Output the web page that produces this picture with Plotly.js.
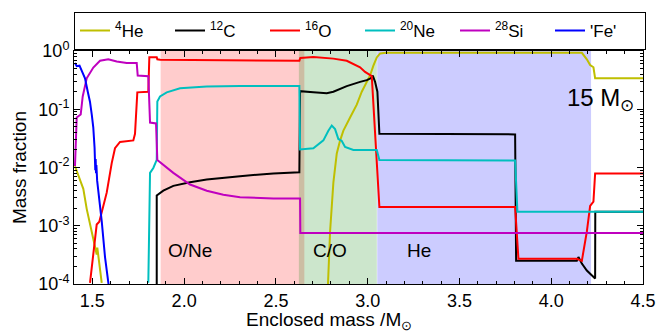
<!DOCTYPE html>
<html>
<head>
<meta charset="utf-8">
<script src="https://cdn.plot.ly/plotly-3.0.1.min.js"></script>
<style>html,body{margin:0;padding:0;background:#fff;}#chart{width:661px;height:334px;}</style>
</head>
<body>
<div id="chart"></div>
<script>
// ---- data ----
const heMass = [1.4054,1.4327,1.4507,1.4692,1.4965,1.5144,1.5237,1.5270,1.5300,1.5379,1.5510,null,2.7826,2.7951,2.8131,2.8316,2.8496,2.8676,2.9041,2.9406,2.9678,2.9951,3.0131,3.0311,3.0496,3.0676,3.10,4.1668,4.1940,4.2120,4.2300,4.2392,4.5];
const heFrac = [0.0105,0.0062,0.0043,0.00195,0.00079,0.00048,0.00032,0.00042,0.00035,0.000224,0.000105,null,0.00008,0.00079,0.0055,0.0174,0.029,0.043,0.072,0.12,0.20,0.295,0.38,0.56,0.776,0.91,0.93,0.93,0.72,0.575,0.525,0.34,0.34];

const cMass = [1.8507,1.8507,1.8866,1.9411,2.0322,2.1232,2.3046,2.4861,2.6278,2.6316,2.7041,2.7771,2.8131,2.8861,2.9586,2.9951,3.0169,3.0278,3.0403,3.0529,3.0638,3.8033,3.8087,4.1395,4.1482,4.1668,4.1940,4.2213,4.2392,4.2400,4.5];
const cFrac = [0.00005,0.0033,0.0040,0.00484,0.0056,0.0062,0.0071,0.0079,0.0083,0.204,0.195,0.188,0.20,0.25,0.295,0.316,0.34,0.38,0.295,0.20,0.038,0.037,0.00025,0.00025,0.00029,0.000224,0.00017,0.000141,0.000124,0.00174,0.00174];

const oMass = [1.4872,1.5237,1.5379,1.5782,1.6055,1.6234,1.6507,1.7232,1.7324,1.7450,1.8049,1.8104,1.8507,1.8540,1.8700,2.2000,2.6278,2.6330,2.7041,2.8131,2.8861,2.9586,2.9858,3.0223,3.0496,3.0638,3.8033,3.8213,4.1395,4.1668,4.1940,4.2120,4.2300,4.2392,4.5];
const oFrac = [0.000105,0.00105,0.00117,0.0037,0.0119,0.0214,0.0275,0.0292,0.038,0.195,0.20,0.78,0.78,0.72,0.71,0.69,0.68,0.76,0.785,0.74,0.68,0.525,0.437,0.37,0.0135,0.0021,0.0021,0.00027,0.00027,0.00025,0.00079,0.0022,0.0026,0.0079,0.0079];

const neMass = [1.8049,1.8142,1.8322,1.8507,1.8540,1.8687,1.9052,1.9777,2.1232,2.3046,2.6278,2.6316,2.7041,2.7586,2.7858,2.8044,2.8223,2.8403,2.8589,2.8768,2.9221,3.0496,3.0638,3.8033,3.8158,4.5];
const neFrac = [0.000105,0.0081,0.0098,0.0135,0.136,0.166,0.195,0.229,0.245,0.251,0.251,0.0204,0.0214,0.0292,0.0427,0.0525,0.0457,0.0309,0.0285,0.0226,0.020,0.020,0.0135,0.0132,0.00174,0.00174];

const siMass = [1.4054,1.4147,1.4365,1.4474,1.4692,1.5052,1.5417,1.5869,1.6327,1.6872,1.7417,1.7471,1.8049,1.8142,1.8469,1.8540,1.9411,2.0322,2.1232,2.2136,2.3046,2.4861,2.6316,2.6330,4.5];
const siFrac = [0.0106,0.072,0.081,0.166,0.34,0.52,0.68,0.72,0.66,0.62,0.62,0.38,0.37,0.059,0.057,0.0135,0.0081,0.0051,0.0040,0.0034,0.0031,0.00295,0.00295,0.00075,0.00075];

const feMass = [1.405,1.415,1.430,1.445,1.460,1.475,1.487,1.497,1.505,1.512,1.514,1.516,1.518,1.520,1.522,1.526,1.532,1.551,1.569,1.587,1.592];
const feFrac = [0.62,0.55,0.56,0.45,0.34,0.20,0.135,0.08,0.049,0.022,0.013,0.009,0.014,0.008,0.011,0.006,0.0043,0.0012,0.00029,0.000105,0.00008];

const seriesNames = ['<sup>4</sup>He','<sup>12</sup>C','<sup>16</sup>O','<sup>20</sup>Ne','<sup>28</sup>Si',"'Fe'"];
const seriesColors = ['#bfbf00','#000000','#ff0000','#00bfbf','#bf00bf','#0000ff'];

const zoneNames = ['O/Ne','C/O','He'];
const zoneStart = [1.872,2.625,3.052];
const zoneEnd = [2.655,3.050,4.217];
const zoneColors = ['rgba(255,0,0,0.2)','rgba(0,128,0,0.2)','rgba(0,0,255,0.2)'];
const zoneLabelX = [2.032,2.797,3.28];
const zoneLabelY = [0.00038,0.00038,0.00038];

const yTickVals = [1e-4,1e-3,1e-2,1e-1,1];
const yTickText = ['10<sup>-4</sup>','10<sup>-3</sup>','10<sup>-2</sup>','10<sup>-1</sup>','10<sup>0</sup>'];

// ---- build ----
const xs = [heMass,cMass,oMass,neMass,siMass,feMass];
const ys = [heFrac,cFrac,oFrac,neFrac,siFrac,feFrac];
const traces = xs.map((x,i)=>({
  x:x, y:ys[i], type:'scatter', mode:'lines', name:seriesNames[i],
  line:{color:seriesColors[i], width:2}, connectgaps:false
}));

const minorY = [];
for (let e=-4;e<0;e++) for (let k=2;k<=9;k++) minorY.push(k*Math.pow(10,e));

const shapes = zoneNames.map((n,i)=>({
  type:'rect', xref:'x', yref:'paper', x0:zoneStart[i], x1:zoneEnd[i], y0:0, y1:1,
  fillcolor:zoneColors[i], line:{width:0}, layer:'below'
}));

const annotations = zoneNames.map((n,i)=>({
  x:zoneLabelX[i], y:Math.log10(zoneLabelY[i]), xref:'x', yref:'y', text:n, showarrow:false,
  font:{size:19,color:'#000'}
}));
annotations.push({x:4.27, y:-0.84, xref:'x', yref:'y', text:'15 M<sub>⊙</sub>', showarrow:false, font:{size:24,color:'#000'}});
// x-axis title (placed as in the reference, slightly left of centre)
annotations.push({x:0.449, y:-0.102, xref:'paper', yref:'paper', xanchor:'center', yanchor:'top', borderpad:0,
  text:'Enclosed mass /M<sub>⊙</sub>', showarrow:false, font:{size:19,color:'#000'}});

const font = 'Liberation Sans, Arial, sans-serif';
const layout = {
  width:661, height:334,
  margin:{l:74, r:18, t:46, b:50},
  paper_bgcolor:'#fff', plot_bgcolor:'rgba(0,0,0,0)',
  font:{family:font, size:18, color:'#000'},
  showlegend:true,
  legend:{orientation:'h', x:0, xanchor:'left', y:1.168, yanchor:'top',
    bordercolor:'#000', borderwidth:1, font:{size:17},
    itemwidth:30, entrywidth:50, entrywidthmode:'pixels', tracegroupgap:0},
  xaxis:{range:[1.4,4.5], tickvals:[1.5,2.0,2.5,3.0,3.5,4.0,4.5], ticktext:['1.5','2.0','2.5','3.0','3.5','4.0','4.5'],
    ticks:'inside', ticklen:6, tickcolor:'#000', showline:true, linecolor:'#000', linewidth:1, mirror:'ticks',
    showgrid:false, zeroline:false, tickfont:{size:18},
    minor:{dtick:0.1, tick0:1.4, ticks:'inside', ticklen:3, tickcolor:'#000', showgrid:false}},
  yaxis:{type:'log', range:[-4,0], tickvals:yTickVals, ticktext:yTickText,
    ticks:'inside', ticklen:6, tickcolor:'#000', showline:true, linecolor:'#000', linewidth:1, mirror:'ticks',
    showgrid:false, zeroline:false, tickfont:{size:18},
    minor:{tickvals:minorY, ticks:'inside', ticklen:3, tickcolor:'#000', showgrid:false},
    title:{text:'Mass fraction', font:{size:19}, standoff:6}},
  shapes:shapes,
  annotations:annotations
};

Plotly.newPlot('chart', traces, layout, {displayModeBar:false, staticPlot:true});
</script>
</body>
</html>
